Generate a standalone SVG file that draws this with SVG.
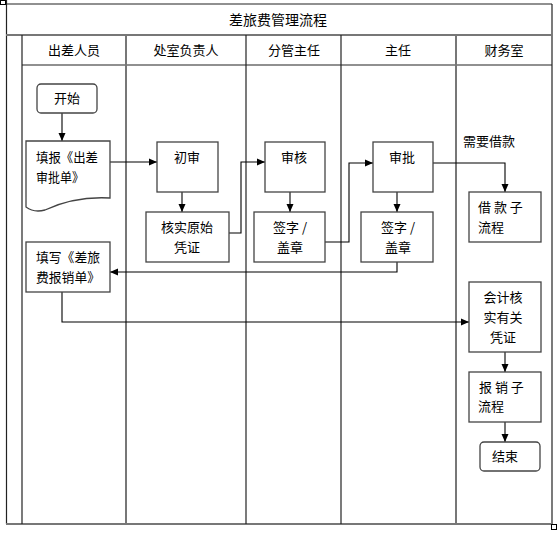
<svg xmlns="http://www.w3.org/2000/svg" width="558" height="533" viewBox="0 0 558 533">
<defs>
<marker id="ah" markerWidth="8" markerHeight="8" refX="8" refY="4" orient="auto" markerUnits="userSpaceOnUse">
<path d="M0,0.5 L8,4 L0,7.5 Z" fill="#000"/>
</marker>
<style>
text{font-family:"Noto Sans CJK SC","Noto Sans CJK JP",sans-serif;font-size:13px;fill:#000}
.c{text-anchor:middle}
.box{fill:#fff;stroke:#444;stroke-width:1.3}
.lane{stroke:#222;stroke-width:1.2;fill:none}
.gl{stroke:#777;stroke-width:2;fill:none}
.con{stroke:#000;stroke-width:1.1;fill:none}
</style>
</defs>
<rect width="558" height="533" fill="#fff"/>
<g id="frame">
<rect x="0.5" y="0.5" width="5" height="4" fill="none" stroke="#000" stroke-width="1"/>
<line class="lane" x1="6.5" y1="0" x2="6.5" y2="524"/>
<line class="lane" x1="6" y1="4" x2="552" y2="4"/>
<line class="lane" x1="552" y1="4" x2="552" y2="524"/>
<line class="gl" x1="6" y1="35" x2="552" y2="35"/>
<line class="gl" x1="6" y1="524" x2="552" y2="524"/>
<rect x="551.5" y="524.5" width="5" height="5" fill="none" stroke="#000" stroke-width="1"/>
<line class="lane" x1="22" y1="35" x2="22" y2="524"/>
<line class="lane" x1="22" y1="65" x2="552" y2="65"/>
<line class="gl" x1="126" y1="35" x2="126" y2="524"/>
<line class="lane" x1="246" y1="35" x2="246" y2="524"/>
<line class="lane" x1="341" y1="35" x2="341" y2="524"/>
<line class="gl" x1="456" y1="35" x2="456" y2="524"/>
<text class="c" x="278" y="25" style="font-size:14px">差旅费管理流程</text>
<text class="c" x="74" y="55">出差人员</text>
<text class="c" x="186" y="55">处室负责人</text>
<text class="c" x="294" y="55">分管主任</text>
<text class="c" x="398" y="55">主任</text>
<text class="c" x="504" y="55">财务室</text>
</g>
<g id="connectors">
<line class="con" x1="62" y1="113" x2="62" y2="141" marker-end="url(#ah)"/>
<line class="con" x1="110" y1="162" x2="157" y2="162" marker-end="url(#ah)"/>
<line class="con" x1="182" y1="192" x2="182" y2="212" marker-end="url(#ah)"/>
<polyline class="con" points="229,233 241,233 241,162 265,162" marker-end="url(#ah)"/>
<line class="con" x1="290" y1="192" x2="290" y2="212" marker-end="url(#ah)"/>
<polyline class="con" points="325,242 349,242 349,163 373,163" marker-end="url(#ah)"/>
<line class="con" x1="397" y1="192" x2="397" y2="212" marker-end="url(#ah)"/>
<polyline class="con" points="433,163 505,163 505,192" marker-end="url(#ah)"/>
<polyline class="con" points="397,262 397,272 110,272" marker-end="url(#ah)"/>
<polyline class="con" points="62,292 62,322 469,322" marker-end="url(#ah)"/>
<line class="con" x1="505" y1="352" x2="505" y2="372" marker-end="url(#ah)"/>
<line class="con" x1="505" y1="422" x2="505" y2="442" marker-end="url(#ah)"/>
<text x="463" y="146">需要借款</text>
</g>
<g id="start">
<rect class="box" x="37" y="84" width="60" height="29" rx="4"/>
<text class="c" x="67" y="103">开始</text>
</g>
<g id="fill-approval">
<path class="box" d="M26,141 H110 V198 Q75,196 45,210 Q34,213 26,207 Z"/>
<text x="36" y="162" textLength="62" lengthAdjust="spacingAndGlyphs">填报《出差</text>
<text x="36" y="182" textLength="48" lengthAdjust="spacingAndGlyphs">审批单》</text>
</g>
<g id="first-review">
<rect class="box" x="157" y="142" width="61" height="50"/>
<text class="c" x="187" y="162">初审</text>
</g>
<g id="verify-vouchers">
<rect class="box" x="146" y="212" width="83" height="50"/>
<text class="c" x="187" y="232">核实原始</text>
<text class="c" x="187" y="252">凭证</text>
</g>
<g id="audit">
<rect class="box" x="265" y="142" width="60" height="50"/>
<text class="c" x="294" y="162">审核</text>
</g>
<g id="sign1">
<rect class="box" x="254" y="212" width="71" height="50"/>
<text class="c" x="290" y="232">签字 /</text>
<text class="c" x="290" y="252">盖章</text>
</g>
<g id="approve">
<rect class="box" x="373" y="142" width="60" height="50"/>
<text class="c" x="402" y="162">审批</text>
</g>
<g id="sign2">
<rect class="box" x="361" y="212" width="72" height="50"/>
<text class="c" x="398" y="232">签字 /</text>
<text class="c" x="398" y="252">盖章</text>
</g>
<g id="loan-sub">
<rect class="box" x="469" y="192" width="72" height="50"/>
<text x="478" y="212">借 款 子</text>
<text x="478" y="232">流程</text>
</g>
<g id="fill-reimburse">
<rect class="box" x="26" y="242" width="84" height="50"/>
<text x="36" y="262" textLength="64" lengthAdjust="spacingAndGlyphs">填写《差旅</text>
<text x="36" y="282" textLength="64" lengthAdjust="spacingAndGlyphs">费报销单》</text>
</g>
<g id="accounting">
<rect class="box" x="469" y="282" width="72" height="70"/>
<text class="c" x="503" y="302">会计核</text>
<text class="c" x="503" y="322">实有关</text>
<text class="c" x="503" y="342">凭证</text>
</g>
<g id="reimburse-sub">
<rect class="box" x="469" y="372" width="72" height="50"/>
<text x="479" y="392">报 销 子</text>
<text x="478" y="411">流程</text>
</g>
<g id="end">
<rect class="box" x="480" y="442" width="60" height="29" rx="4"/>
<text class="c" x="505" y="461">结束</text>
</g>
</svg>
